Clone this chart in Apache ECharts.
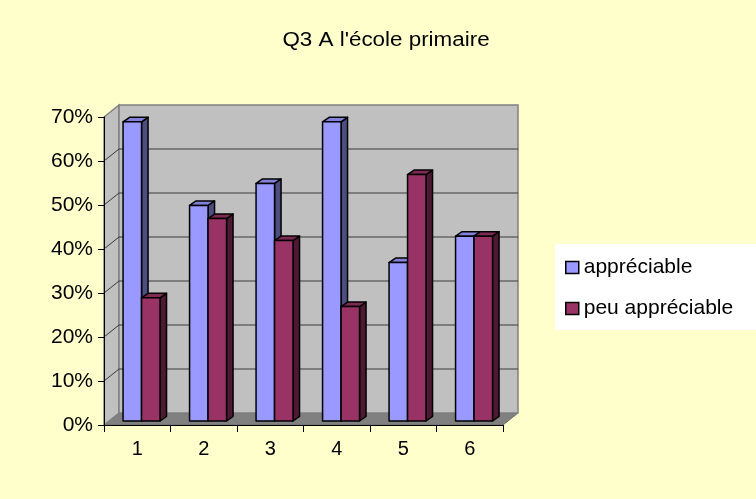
<!DOCTYPE html>
<html>
<head>
<meta charset="utf-8">
<script src="https://cdn.jsdelivr.net/npm/echarts@6/dist/echarts.min.js"></script>
<style>html,body{margin:0;padding:0;background:#FFFFCC;}#c{width:756px;height:499px;}</style>
</head>
<body>
<div id="c"></div>
<script>
const titleText = "Q3 A l'école primaire";
const categories = ['1', '2', '3', '4', '5', '6'];
const seriesNames = ['appréciable', 'peu appréciable'];
const appreciable = [0.68, 0.49, 0.54, 0.68, 0.36, 0.42];
const peuAppreciable = [0.28, 0.46, 0.41, 0.26, 0.56, 0.42];
const yMax = 0.7;
const yStep = 0.1;

// styling / 3D projection constants
const WALL_DEPTH = [15, -12];
const BAR_SHIFT = [4.3, -4];
const BAR_DEPTH = [6.5, -4.5];
const BAR_FRAC = 0.278;
const FONT = '"Liberation Sans", Arial, sans-serif';
const colors = [
  {front: '#9999FF', top: '#8282DA', side: '#4D4D80'},
  {front: '#993366', top: '#7E2A55', side: '#4D1933'}
];

const chart = echarts.init(document.getElementById('c'), null, {renderer: 'canvas'});

function wallRender(params, api) {
  const cs = params.coordSys;
  const x = cs.x, y = cs.y, w = cs.width, h = cs.height;
  const dx = WALL_DEPTH[0], dy = WALL_DEPTH[1];
  const children = [
    {type: 'polygon', shape: {points: [[x, y + h], [x + w, y + h], [x + w + dx, y + h + dy], [x + dx, y + h + dy]]},
      style: {fill: '#808080', stroke: '#6e6e6e', lineWidth: 1}},
    {type: 'polygon', shape: {points: [[x, y], [x, y + h], [x + dx, y + h + dy], [x + dx, y + dy]]},
      style: {fill: '#C0C0C0', stroke: '#808080', lineWidth: 1.5}},
    {type: 'rect', shape: {x: x + dx, y: y + dy, width: w, height: h},
      style: {fill: '#C0C0C0', stroke: '#808080', lineWidth: 1.5}}
  ];
  const n = Math.round(yMax / yStep);
  for (let k = 1; k < n; k++) {
    const yy = api.coord([0, k * yStep])[1];
    children.push({type: 'line', shape: {x1: x + dx, y1: yy + dy, x2: x + dx + w, y2: yy + dy},
      style: {stroke: '#3a3a3a', lineWidth: 1}});
    children.push({type: 'line', shape: {x1: x, y1: yy, x2: x + dx, y2: yy + dy},
      style: {stroke: '#3a3a3a', lineWidth: 1}});
  }
  return {type: 'group', children: children};
}

function barRender(side) {
  const col = colors[side];
  return function (params, api) {
    const c = api.coord([api.value(0), api.value(1)]);
    const b = api.coord([api.value(0), 0]);
    const band = api.size([1, 0])[0];
    const w = band * BAR_FRAC;
    const x0 = c[0] + BAR_SHIFT[0] + (side === 0 ? -w : 0);
    const x1 = x0 + w;
    const yt = c[1] + BAR_SHIFT[1];
    const yb = b[1] + BAR_SHIFT[1];
    const dx = BAR_DEPTH[0], dy = BAR_DEPTH[1];
    const st = {stroke: '#000', lineWidth: 1.5, lineJoin: 'round'};
    return {type: 'group', children: [
      {type: 'polygon', shape: {points: [[x1, yb], [x1 + dx, yb + dy], [x1 + dx, yt + dy], [x1, yt]]},
        style: Object.assign({fill: col.side}, st)},
      {type: 'polygon', shape: {points: [[x0, yt], [x0 + dx, yt + dy], [x1 + dx, yt + dy], [x1, yt]]},
        style: Object.assign({fill: col.top}, st)},
      {type: 'rect', shape: {x: x0, y: yt, width: w, height: yb - yt},
        style: Object.assign({fill: col.front}, st)}
    ]};
  };
}

const option = {
  backgroundColor: '#FFFFCC',
  animation: false,
  graphic: [{
    type: 'text', x: 386, y: 40, z: 100, scaleX: 1.12,
    style: {text: titleText, textAlign: 'center', textVerticalAlign: 'middle',
      font: '20px ' + FONT, fill: '#000'}
  }],
  legend: {
    orient: 'vertical',
    left: 555, top: 244,
    padding: [13, 24, 11, 10],
    backgroundColor: '#FFFFFF',
    itemWidth: 13, itemHeight: 12, itemGap: 20,
    icon: 'rect',
    itemStyle: {borderColor: '#000', borderWidth: 1.5},
    textStyle: {fontFamily: FONT, fontSize: 21, color: '#000', padding: [0, 0, 0, 0]},
    data: seriesNames
  },
  grid: {left: 104, right: 253, top: 117, bottom: 74, containLabel: false},
  xAxis: {
    type: 'category', data: categories, z: 10,
    axisLine: {show: true, lineStyle: {color: '#000', width: 1}},
    axisTick: {show: true, inside: false, length: 7, lineStyle: {color: '#000'}},
    axisLabel: {fontFamily: FONT, fontSize: 20, color: '#000', margin: 14},
    splitLine: {show: false}
  },
  yAxis: {
    type: 'value', min: 0, max: yMax, interval: yStep, z: 10,
    axisLine: {show: true, lineStyle: {color: '#000', width: 1}},
    axisTick: {show: true, inside: false, length: 6, lineStyle: {color: '#000'}},
    axisLabel: {fontFamily: FONT, fontSize: 21, color: '#000', margin: 11,
      formatter: function (v) { return Math.round(v * 100) + '%'; }},
    splitLine: {show: false}
  },
  series: [
    {type: 'custom', name: '__walls', z: 1, silent: true, renderItem: wallRender,
      data: [[0, 0]], encode: {x: 0, y: 1}, legendHoverLink: false},
    {type: 'custom', name: seriesNames[0], z: 2, renderItem: barRender(0),
      itemStyle: {color: colors[0].front},
      data: appreciable.map(function (v, i) { return [i, v]; }), encode: {x: 0, y: 1}},
    {type: 'custom', name: seriesNames[1], z: 3, renderItem: barRender(1),
      itemStyle: {color: colors[1].front},
      data: peuAppreciable.map(function (v, i) { return [i, v]; }), encode: {x: 0, y: 1}}
  ]
};
chart.setOption(option);
</script>
</body>
</html>
